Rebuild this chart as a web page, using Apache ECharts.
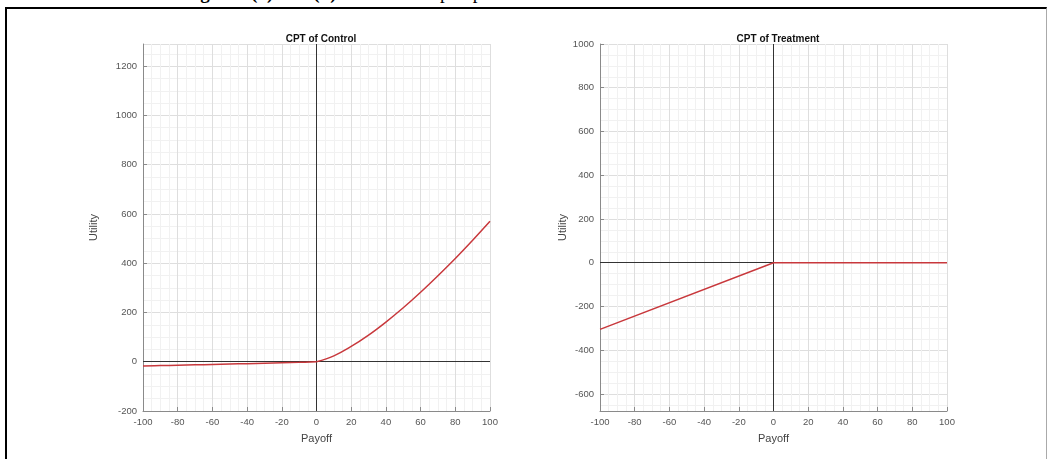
<!DOCTYPE html>
<html>
<head>
<meta charset="utf-8">
<script src="https://cdn.jsdelivr.net/npm/echarts@6/dist/echarts.min.js"></script>
<style>
html,body{margin:0;padding:0;background:#fff;width:1047px;height:459px;overflow:hidden;}
#title{position:absolute;left:0;width:1047px;top:-18px;text-align:center;font-family:"Liberation Serif","Times New Roman",serif;font-size:19px;color:#000;white-space:nowrap;line-height:22px;}
#frame{position:absolute;left:5px;top:7px;width:1039px;height:460px;border-top:2px solid #000;border-left:2px solid #000;border-right:1px solid #aaa;background:transparent;}
#chart{position:absolute;left:0;top:0;width:1047px;height:459px;}
</style>
</head>
<body>
<div id="title"><b>Figure 1(a) and (b)</b>: Cumulative prospect curve for no treatment and treatment condition</div>
<div id="frame"></div>
<div id="chart"></div>
<script>
// Data
const panelTitles = ['CPT of Control', 'CPT of Treatment'];
const xAxisName = 'Payoff';
const yAxisName = 'Utility';
const controlLossPayoff = [-100, -90, -80, -70, -60, -50, -40, -30, -20, -10, 0];
const controlLossUtility = [-17, -15.6, -14.1, -12.6, -11, -9.4, -7.8, -6.0, -4.2, -2.3, 0];
const controlGainPayoff = [0, 10, 20, 30, 40, 50, 60, 70, 80, 90, 100];
const controlGainUtility = [0, 24, 62, 108, 161, 219, 282, 349, 419, 493, 570];
const treatmentPayoff = [-100, 0, 100];
const treatmentUtility = [-305, 0, 0];
const xRange = [-100, 100];
const controlYRange = [-200, 1290];
const treatmentYRange = [-678, 1000];

const pairs = (xs, ys) => xs.map((x, i) => [x, ys[i]]);

const chart = echarts.init(document.getElementById('chart'), null, {renderer: 'canvas'});
const font = 'Liberation Sans, Arial, sans-serif';
const axisGray = '#8a8a8a';
const labelGray = '#555';
const plain = v => String(v);

function xAx(gi) {
  return {
    type: 'value', gridIndex: gi, min: xRange[0], max: xRange[1], interval: 20,
    name: xAxisName, nameLocation: 'middle', nameGap: 22,
    nameTextStyle: {fontFamily: font, fontSize: 11, color: '#444'},
    axisLine: {show: true, onZero: false, lineStyle: {color: axisGray, width: 1}},
    axisTick: {show: true, inside: true, length: 4, lineStyle: {color: axisGray}},
    axisLabel: {fontFamily: font, fontSize: 9.5, color: labelGray, margin: 6, formatter: plain},
    splitLine: {show: true, lineStyle: {color: '#dedede', width: 1}},
    minorTick: {show: false, splitNumber: 4},
    minorSplitLine: {show: true, lineStyle: {color: '#f1f1f1', width: 1}}
  };
}
function yAx(gi, range, gap, extra, labelExtra) {
  return Object.assign({
    type: 'value', gridIndex: gi, min: range[0], max: range[1],
    name: yAxisName, nameLocation: 'middle', nameGap: gap, nameRotate: 90,
    nameTextStyle: {fontFamily: font, fontSize: 11, color: '#444'},
    axisLine: {show: true, onZero: false, lineStyle: {color: axisGray, width: 1}},
    axisTick: {show: true, inside: true, length: 4, lineStyle: {color: axisGray}},
    axisLabel: Object.assign({fontFamily: font, fontSize: 9.5, color: labelGray, margin: 6, formatter: plain}, labelExtra),
    splitLine: {show: true, lineStyle: {color: '#dedede', width: 1}},
    minorTick: {show: false, splitNumber: 4},
    minorSplitLine: {show: true, lineStyle: {color: '#f1f1f1', width: 1}}
  }, extra);
}
const zeroLines = {
  silent: true, symbol: 'none', label: {show: false}, animation: false,
  lineStyle: {color: '#333', type: 'solid', width: 1},
  data: [{xAxis: 0}, {yAxis: 0}]
};
const red = '#c8383c';
const lineStyle = {color: red, width: 1.5};

chart.setOption({
  animation: false,
  title: [
    {text: panelTitles[0], left: 316, top: 29, textAlign: 'center', textStyle: {fontFamily: font, fontSize: 10, fontWeight: 'bold', color: '#111'}},
    {text: panelTitles[1], left: 773, top: 29, textAlign: 'center', textStyle: {fontFamily: font, fontSize: 10, fontWeight: 'bold', color: '#111'}}
  ],
  grid: [
    {left: 143, top: 44, width: 347, height: 367},
    {left: 600, top: 44, width: 347, height: 367}
  ],
  xAxis: [xAx(0), xAx(1)],
  yAxis: [
    yAx(0, controlYRange, 44, {interval: 200}, {showMaxLabel: false}),
    yAx(1, treatmentYRange, 29, {splitNumber: 8}, {showMinLabel: false, showMaxLabel: true})
  ],
  series: [
    {type: 'line', xAxisIndex: 0, yAxisIndex: 0, data: pairs(controlLossPayoff, controlLossUtility),
     showSymbol: false, smooth: 0.4, lineStyle: lineStyle, itemStyle: {color: red}, z: 5,
     markLine: zeroLines},
    {type: 'line', xAxisIndex: 0, yAxisIndex: 0, data: pairs(controlGainPayoff, controlGainUtility),
     showSymbol: false, smooth: 0.4, lineStyle: lineStyle, itemStyle: {color: red}, z: 5},
    {type: 'line', xAxisIndex: 1, yAxisIndex: 1, data: pairs(treatmentPayoff, treatmentUtility),
     showSymbol: false, lineStyle: lineStyle, itemStyle: {color: red}, z: 5,
     markLine: zeroLines}
  ]
});
</script>
</body>
</html>
